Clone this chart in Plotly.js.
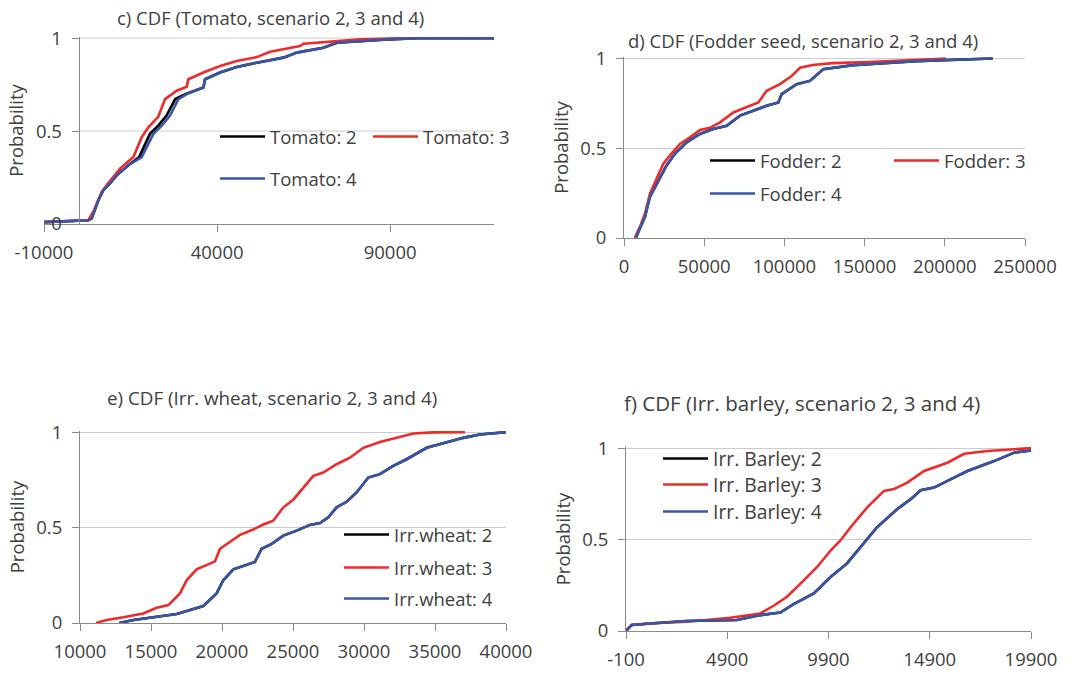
<!DOCTYPE html>
<html>
<head>
<meta charset="utf-8">
<script src="https://cdn.plot.ly/plotly-3.0.1.min.js"></script>
<style>html,body{margin:0;padding:0;background:#fff;}#chart{width:1072px;height:673px;}</style>
</head>
<body>
<div id="chart"></div>
<script>
// ---------- Panel c: Tomato ----------
const tomatoX2 = [-10000, 2800, 3780, 4740, 5700, 7140, 9070, 11010, 14360, 17500, 18900, 20600, 23000, 25400, 27900, 31000, 36040, 36530, 40860, 45690, 51470, 59160, 63030, 70720, 74590, 81320, 88000, 97800, 120000];
const tomatoP2 = [0.01, 0.02, 0.03, 0.075, 0.128, 0.182, 0.218, 0.262, 0.316, 0.36, 0.413, 0.485, 0.529, 0.583, 0.672, 0.699, 0.734, 0.779, 0.815, 0.845, 0.868, 0.895, 0.922, 0.948, 0.975, 0.984, 0.992, 1, 1];
const tomatoX3 = [-10000, 2800, 4250, 5230, 6670, 8120, 10030, 11960, 15820, 18230, 20150, 23040, 24970, 28350, 31240, 31700, 36040, 40860, 45690, 51470, 55310, 63980, 64940, 74590, 81320, 90000, 98000];
const tomatoP3 = [0.01, 0.02, 0.066, 0.11, 0.173, 0.209, 0.253, 0.298, 0.36, 0.467, 0.52, 0.578, 0.672, 0.717, 0.738, 0.779, 0.815, 0.85, 0.877, 0.898, 0.927, 0.957, 0.97, 0.984, 0.993, 0.998, 1];
const tomatoX4 = [-10000, 2800, 3780, 4740, 5700, 7140, 9070, 11010, 14360, 18230, 19680, 21600, 24010, 26410, 28820, 31240, 36040, 36530, 40860, 45690, 51470, 59160, 63030, 70720, 74590, 81320, 88000, 97800, 120000];
const tomatoP4 = [0.01, 0.02, 0.03, 0.075, 0.128, 0.182, 0.218, 0.262, 0.316, 0.36, 0.413, 0.485, 0.529, 0.583, 0.672, 0.699, 0.734, 0.779, 0.815, 0.845, 0.868, 0.895, 0.922, 0.948, 0.975, 0.984, 0.992, 1, 1];
const tomatoTickVals = [-10000, 40000, 90000];
const tomatoTickText = ['-10000', '40000', '90000'];

// ---------- Panel d: Fodder seed ----------
const fodderX2 = [7000, 13000, 16100, 21300, 26500, 31700, 39000, 47300, 55600, 64000, 72300, 80600, 88900, 96200, 98300, 107600, 115900, 124200, 142900, 182000, 229800];
const fodderP2 = [0, 0.118, 0.228, 0.32, 0.403, 0.468, 0.532, 0.578, 0.606, 0.624, 0.68, 0.707, 0.735, 0.753, 0.8, 0.855, 0.873, 0.938, 0.961, 0.983, 0.998];
const fodderX3 = [6860, 9970, 13090, 16210, 20360, 24520, 28680, 34910, 41140, 47380, 53610, 59850, 68160, 76470, 83740, 88940, 97250, 104500, 109700, 117600, 130000, 152600, 180000, 200700];
const fodderP3 = [0, 0.062, 0.136, 0.247, 0.33, 0.413, 0.459, 0.523, 0.56, 0.6, 0.612, 0.643, 0.698, 0.729, 0.753, 0.818, 0.855, 0.9, 0.946, 0.962, 0.972, 0.978, 0.988, 0.998];
const fodderX4 = [7500, 13090, 16210, 21400, 26610, 31790, 39080, 47380, 55670, 64000, 72310, 80620, 88940, 96200, 98300, 107600, 115900, 124200, 142900, 182000, 229800];
const fodderP4 = [0, 0.118, 0.228, 0.32, 0.403, 0.468, 0.532, 0.578, 0.606, 0.624, 0.68, 0.707, 0.735, 0.753, 0.8, 0.855, 0.873, 0.938, 0.961, 0.983, 0.998];
const fodderTickVals = [0, 50000, 100000, 150000, 200000, 250000];
const fodderTickText = ['0', '50000', '100000', '150000', '200000', '250000'];

// ---------- Panel e: Irr. wheat ----------
const wheatX2 = [12770, 13760, 15160, 16810, 17750, 18680, 19620, 20090, 20800, 21500, 22320, 22790, 23500, 24320, 25260, 26190, 26900, 27490, 28070, 28780, 29480, 30300, 31120, 32060, 33000, 34410, 35820, 36990, 38160, 39570, 40000];
const wheatP2 = [0, 0.016, 0.03, 0.047, 0.068, 0.089, 0.155, 0.224, 0.281, 0.3, 0.32, 0.389, 0.415, 0.458, 0.484, 0.514, 0.524, 0.554, 0.606, 0.635, 0.684, 0.762, 0.78, 0.823, 0.858, 0.918, 0.948, 0.97, 0.988, 0.999, 1];
const wheatX3 = [11130, 11880, 13050, 14460, 15400, 16220, 17040, 17510, 18210, 18920, 19510, 19860, 20560, 21270, 22200, 22910, 23610, 24320, 25020, 25720, 26430, 27130, 28070, 29010, 29950, 31120, 32300, 33470, 34880, 37110];
const wheatP3 = [0, 0.016, 0.03, 0.05, 0.08, 0.094, 0.155, 0.224, 0.281, 0.302, 0.323, 0.389, 0.424, 0.462, 0.49, 0.516, 0.536, 0.606, 0.646, 0.71, 0.771, 0.788, 0.832, 0.866, 0.918, 0.948, 0.97, 0.993, 0.999, 1];
const wheatX4 = [12770, 13760, 15160, 16810, 17750, 18680, 19620, 20090, 20800, 21500, 22320, 22790, 23500, 24320, 25260, 26190, 26900, 27490, 28070, 28780, 29480, 30300, 31120, 32060, 33000, 34410, 35820, 36990, 38160, 39570, 40000];
const wheatP4 = [0, 0.016, 0.03, 0.047, 0.068, 0.089, 0.155, 0.224, 0.281, 0.3, 0.32, 0.389, 0.415, 0.458, 0.484, 0.514, 0.524, 0.554, 0.606, 0.635, 0.684, 0.762, 0.78, 0.823, 0.858, 0.918, 0.948, 0.97, 0.988, 0.999, 1];
const wheatTickVals = [10000, 15000, 20000, 25000, 30000, 35000, 40000];
const wheatTickText = ['10000', '15000', '20000', '25000', '30000', '35000', '40000'];

// ---------- Panel f: Irr. barley ----------
const barleyX2 = [-100, 180, 1250, 2900, 5380, 6530, 7520, 8180, 9170, 10000, 10800, 11460, 12290, 13300, 13960, 14450, 15110, 16100, 16760, 18080, 19070, 19900];
const barleyP2 = [0, 0.033, 0.042, 0.055, 0.06, 0.087, 0.101, 0.147, 0.205, 0.295, 0.368, 0.458, 0.567, 0.667, 0.721, 0.77, 0.784, 0.839, 0.875, 0.929, 0.975, 0.987];
const barleyX3 = [-100, 180, 1250, 2900, 5050, 6530, 7190, 7850, 8680, 9340, 10000, 10490, 10990, 11810, 12640, 13130, 13790, 14620, 15770, 16600, 17750, 19070, 19900];
const barleyP3 = [0, 0.033, 0.042, 0.051, 0.072, 0.096, 0.138, 0.187, 0.277, 0.35, 0.44, 0.495, 0.567, 0.676, 0.766, 0.776, 0.811, 0.875, 0.92, 0.969, 0.984, 0.993, 1];
const barleyX4 = [-100, 180, 1250, 2900, 5380, 6530, 7520, 8180, 9170, 10000, 10820, 11480, 12310, 13300, 13960, 14450, 15110, 16100, 16760, 18080, 19070, 19900];
const barleyP4 = [0, 0.033, 0.042, 0.055, 0.06, 0.087, 0.101, 0.147, 0.205, 0.295, 0.368, 0.458, 0.567, 0.667, 0.721, 0.77, 0.784, 0.839, 0.875, 0.929, 0.975, 0.987];
const barleyTickVals = [-100, 4900, 9900, 14900, 19900];
const barleyTickText = ['-100', '4900', '9900', '14900', '19900'];

const probTickVals = [0, 0.5, 1];
const probTickText = ['0', '0.5', '1'];

const panelTitles = ['c) CDF (Tomato, scenario 2, 3 and 4)', 'd) CDF (Fodder seed, scenario 2, 3 and 4)', 'e) CDF (Irr. wheat, scenario 2, 3 and 4)', 'f) CDF (Irr. barley, scenario 2, 3 and 4)'];
const seriesNames = [
  ['Tomato: 2', 'Tomato: 3', 'Tomato: 4'],
  ['Fodder: 2', 'Fodder: 3', 'Fodder: 4'],
  ['Irr.wheat: 2', 'Irr.wheat: 3', 'Irr.wheat: 4'],
  ['Irr. Barley: 2', 'Irr. Barley: 3', 'Irr. Barley: 4']
];

// ---------- styling ----------
const W = 1072, H = 673;
const FONT = 'Open Sans, Noto Sans, sans-serif';
const TXT = '#404040';
const AXC = '#8a8a8a';
const GRIDC = '#cccccc';
const COLORS = ['#000000', '#ee2a2a', '#3a55a5'];
const px = v => v / W;
const py = v => 1 - v / H;

const seriesX = [[tomatoX2, tomatoX3, tomatoX4], [fodderX2, fodderX3, fodderX4], [wheatX2, wheatX3, wheatX4], [barleyX2, barleyX3, barleyX4]];
const seriesP = [[tomatoP2, tomatoP3, tomatoP4], [fodderP2, fodderP3, fodderP4], [wheatP2, wheatP3, wheatP4], [barleyP2, barleyP3, barleyP4]];

// legend entry positions: [line start px, center py]
const legendPos = [
  [[220, 137], [373, 137], [220, 179]],
  [[710, 161], [894, 161], [710, 194]],
  [[344, 535], [344, 568], [344, 599]],
  [[663, 459], [663, 485], [663, 512]]
];
const legendFontSize = [18.5, 18.5, 18.5, 19.3];
const titleFontSize = [18.5, 18.5, 18.8, 20.5];

const data = [];
const layout = {
  width: W, height: H, autosize: false,
  margin: {l: 0, r: 0, t: 0, b: 0},
  paper_bgcolor: '#fff', plot_bgcolor: 'rgba(0,0,0,0)',
  font: {family: FONT, size: 18.5, color: TXT},
  showlegend: true,
  shapes: [], annotations: []
};

let legIdx = 0;
for (let p = 0; p < 4; p++) {
  const ax = p === 0 ? '' : String(p + 1);
  for (let s = 0; s < 3; s++) {
    legIdx++;
    const lid = legIdx === 1 ? 'legend' : 'legend' + legIdx;
    data.push({
      type: 'scatter', mode: 'lines',
      x: seriesX[p][s], y: seriesP[p][s],
      name: seriesNames[p][s],
      xaxis: 'x' + ax, yaxis: 'y' + ax,
      line: {color: COLORS[s], width: 2.6},
      legend: lid, hoverinfo: 'skip'
    });
    const lp = legendPos[p][s];
    layout[lid] = {
      x: px(lp[0] - 5), y: py(lp[1]), xanchor: 'left', yanchor: 'middle',
      bgcolor: 'rgba(0,0,0,0)', borderwidth: 0, itemwidth: 45,
      font: {family: FONT, size: legendFontSize[p], color: TXT}
    };
  }
}

// axes geometry (pixels)
const geo = [
  {x0: 44, x1: 494, y0: 224, y1: 37, xr: [-10000, 120000], tv: tomatoTickVals, tt: tomatoTickText, yaxPos: 78.6, ttl: [270, 17]},
  {x0: 624, x1: 1025, y0: 238, y1: 57, xr: [0, 250000], tv: fodderTickVals, tt: fodderTickText, ttl: [803, 40]},
  {x0: 80, x1: 506, y0: 623, y1: 431, xr: [10000, 40000], tv: wheatTickVals, tt: wheatTickText, ttl: [272, 398]},
  {x0: 626, x1: 1031, y0: 631, y1: 447, xr: [-100, 19900], tv: barleyTickVals, tt: barleyTickText, ttl: [802, 403]}
];

for (let p = 0; p < 4; p++) {
  const g = geo[p];
  const ax = p === 0 ? '' : String(p + 1);
  layout['xaxis' + ax] = {
    domain: [px(g.x0), px(g.x1)], range: g.xr, anchor: 'y' + ax,
    tickmode: 'array', tickvals: g.tv, ticktext: g.tt,
    showline: true, linecolor: AXC, linewidth: 1,
    ticks: 'outside', ticklen: 7, tickcolor: AXC, tickwidth: 1,
    ticklabelstandoff: 5,
    showgrid: false, zeroline: false, fixedrange: true,
    tickfont: {family: FONT, size: 18.5, color: TXT}
  };
  const yax = {
    domain: [py(g.y0), py(g.y1)], range: [0, 1.006],
    tickmode: 'array', tickvals: probTickVals, ticktext: probTickText,
    showline: true, linecolor: AXC, linewidth: 1,
    ticks: 'outside', ticklen: 7, tickcolor: AXC, tickwidth: 1,
    ticklabelstandoff: 6,
    showgrid: p !== 0, gridcolor: GRIDC, gridwidth: 1,
    zeroline: false, fixedrange: true,
    tickfont: {family: FONT, size: 18.5, color: TXT},
    title: {text: 'Probability', font: {family: FONT, size: 18.5, color: TXT}, standoff: 6}
  };
  if (p === 0) {
    yax.anchor = 'free';
    yax.position = px(g.yaxPos);
    // gridlines start at the y axis (x = 0)
    probTickVals.filter(v => v > 0).forEach(v => {
      layout.shapes.push({type: 'line', xref: 'x', yref: 'y', x0: 0, x1: g.xr[1], y0: v, y1: v,
        line: {color: GRIDC, width: 1}, layer: 'below'});
    });
  } else {
    yax.anchor = 'x' + ax;
  }
  layout['yaxis' + ax] = yax;
  layout.annotations.push({
    xref: 'paper', yref: 'paper', x: px(g.ttl[0]), y: py(g.ttl[1]),
    xanchor: 'center', yanchor: 'middle', showarrow: false,
    text: panelTitles[p], font: {family: FONT, size: titleFontSize[p], color: TXT}
  });
}

Plotly.newPlot('chart', data, layout, {staticPlot: true, displayModeBar: false});
</script>
</body>
</html>
